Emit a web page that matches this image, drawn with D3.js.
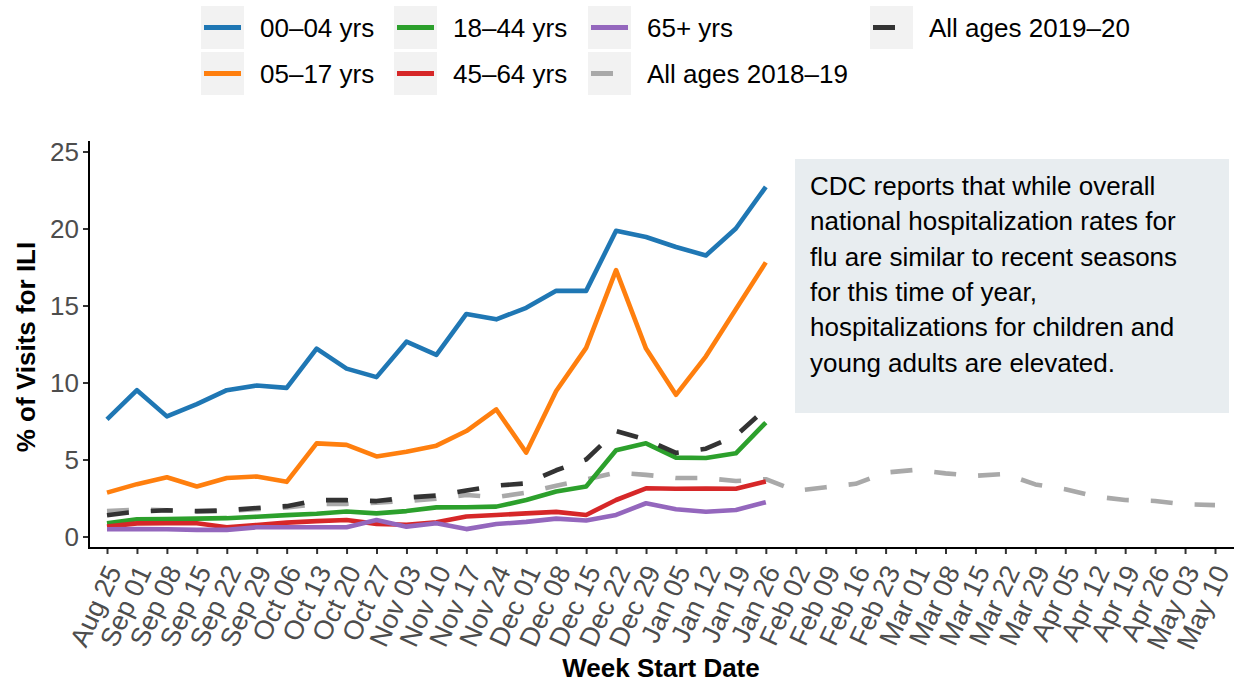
<!DOCTYPE html>
<html>
<head>
<meta charset="utf-8">
<script src="https://cdn.jsdelivr.net/npm/d3@7"></script>
<style>
  html, body { margin: 0; padding: 0; background: #fff; }
  svg { display: block; font-family: "Liberation Sans", Arial, Helvetica, sans-serif; }
</style>
</head>
<body>
<svg id="chart" width="1235" height="683"></svg>
<script>
// ---------------- DATA ----------------
const weeks = ["Aug 25","Sep 01","Sep 08","Sep 15","Sep 22","Sep 29","Oct 06","Oct 13","Oct 20","Oct 27",
  "Nov 03","Nov 10","Nov 17","Nov 24","Dec 01","Dec 08","Dec 15","Dec 22","Dec 29","Jan 05","Jan 12",
  "Jan 19","Jan 26","Feb 02","Feb 09","Feb 16","Feb 23","Mar 01","Mar 08","Mar 15","Mar 22","Mar 29",
  "Apr 05","Apr 12","Apr 19","Apr 26","May 03","May 10"];

const age00_04 = [7.6, 9.5, 7.8, 8.6, 9.5, 9.8, 9.65, 12.2, 10.9, 10.35, 12.65, 11.8, 14.45, 14.1, 14.85, 15.95, 15.95, 19.85, 19.45, 18.8, 18.25, 20.0, 22.7];
const age05_17 = [2.85, 3.4, 3.85, 3.25, 3.8, 3.9, 3.55, 6.05, 5.95, 5.2, 5.5, 5.9, 6.85, 8.25, 5.45, 9.45, 12.25, 17.3, 12.2, 9.2, 11.7, 14.75, 17.8];
const age18_44 = [0.86, 1.12, 1.14, 1.16, 1.19, 1.28, 1.39, 1.48, 1.62, 1.5, 1.65, 1.89, 1.9, 1.94, 2.37, 2.92, 3.25, 5.6, 6.05, 5.12, 5.1, 5.4, 7.4];
const age45_64 = [0.64, 0.85, 0.86, 0.86, 0.6, 0.75, 0.9, 1.0, 1.07, 0.82, 0.76, 0.92, 1.3, 1.4, 1.5, 1.6, 1.4, 2.37, 3.13, 3.1, 3.11, 3.1, 3.57];
const age65plus = [0.47, 0.48, 0.47, 0.43, 0.43, 0.6, 0.6, 0.6, 0.6, 1.07, 0.64, 0.86, 0.48, 0.81, 0.95, 1.16, 1.04, 1.4, 2.16, 1.77, 1.61, 1.72, 2.23];
const allAges2019_20 = [1.38, 1.62, 1.7, 1.65, 1.7, 1.85, 1.97, 2.36, 2.36, 2.3, 2.52, 2.66, 2.99, 3.3, 3.45, 4.3, 5.0, 6.85, 6.3, 5.43, 5.7, 6.55, 8.3];
const allAges2018_19 = [1.65, 1.75, 1.7, 1.62, 1.65, 1.78, 1.88, 2.1, 2.12, 2.2, 2.3, 2.45, 2.7, 2.55, 2.85, 3.3, 3.7, 4.15, 4.0, 3.8, 3.8, 3.6, 3.72,
  2.97, 3.2, 3.42, 4.15, 4.33, 4.1, 3.94, 4.06, 3.38, 3.07, 2.6, 2.37, 2.31, 2.09, 2.04];

const seriesNames = ["00\u201304 yrs","05\u201317 yrs","18\u201344 yrs","45\u201364 yrs","65+ yrs","All ages 2018\u201319","All ages 2019\u201320"];
const seriesColors = ["#1f77b4","#ff7f0e","#2ca02c","#d62728","#9467bd","#a9a9a9","#333333"];
const seriesDashed = [false,false,false,false,false,true,true];
const seriesValues = [age00_04, age05_17, age18_44, age45_64, age65plus, allAges2018_19, allAges2019_20];

const yTicks = [0, 5, 10, 15, 20, 25];
const annotationLines = [
  "CDC reports that while overall",
  "national hospitalization rates for",
  "flu are similar to recent seasons",
  "for this time of year,",
  "hospitalizations for children and",
  "young adults are elevated."
];

// ---------------- LAYOUT ----------------
const svg = d3.select("#chart");
const FONT = 26;
const plotLeft = 89, plotRight = 1234, plotTop = 141, plotBottom = 548;

const x = d3.scalePoint().domain(weeks).range([107, 1215]);
const y = d3.scaleLinear().domain([0, 25]).range([536.5, 151.5]);

// Annotation box
const ann = svg.append("g");
ann.append("rect").attr("x", 795).attr("y", 159).attr("width", 434).attr("height", 254).attr("fill", "#e8edf0");
ann.selectAll("text").data(annotationLines).join("text")
  .attr("x", 810).attr("y", (d, i) => 195 + i * 35.3)
  .attr("font-size", FONT).attr("fill", "#000").text(d => d);

// Lines (draw 2018-19 first, 2019-20 last)
const drawOrder = [5, 0, 1, 2, 3, 4, 6];
const line = d3.line().x(d => x(d.w)).y(d => y(d.v));
const linesG = svg.append("g").attr("fill", "none");
drawOrder.forEach(i => {
  const pts = seriesValues[i].map((v, k) => ({ w: weeks[k], v }));
  linesG.append("path").datum(pts)
    .attr("d", line)
    .attr("stroke", seriesColors[i])
    .attr("stroke-width", 4.6)
    .attr("stroke-linejoin", "round")
    .attr("stroke-linecap", "butt")
    .attr("stroke-dasharray", seriesDashed[i] ? "22,22" : null);
});

// Y axis
const yAxis = d3.axisLeft(y).tickValues(yTicks).tickSize(6).tickPadding(4);
const yg = svg.append("g").attr("transform", `translate(${plotLeft},0)`).call(yAxis);
yg.select(".domain").remove();
yg.selectAll(".tick line").attr("stroke", "#333").attr("stroke-width", 2);
yg.selectAll(".tick text").attr("font-size", FONT).attr("fill", "#4d4d4d")
  .attr("font-family", "'Liberation Sans', Arial, sans-serif").attr("dy", "0.36em");
svg.append("line").attr("x1", plotLeft).attr("x2", plotLeft).attr("y1", plotTop).attr("y2", plotBottom + 1)
  .attr("stroke", "#000").attr("stroke-width", 2);

// X axis
const xAxis = d3.axisBottom(x).tickSize(6).tickFormat(() => "");
const xg = svg.append("g").attr("transform", `translate(0,${plotBottom})`).call(xAxis);
xg.select(".domain").remove();
xg.selectAll(".tick line").attr("stroke", "#333").attr("stroke-width", 2);
xg.selectAll(".tick").append("text")
  .attr("transform", "translate(-3,15) rotate(-65)")
  .attr("text-anchor", "end")
  .attr("dy", "0.72em")
  .attr("font-size", 27).attr("fill", "#4d4d4d")
  .attr("font-family", "'Liberation Sans', Arial, sans-serif")
  .text(d => d);
svg.append("line").attr("x1", plotLeft - 1).attr("x2", plotRight).attr("y1", plotBottom).attr("y2", plotBottom)
  .attr("stroke", "#000").attr("stroke-width", 2);

// Axis titles
svg.append("text").attr("x", 661).attr("y", 677).attr("text-anchor", "middle")
  .attr("font-size", FONT).attr("font-weight", "bold").attr("fill", "#000").text("Week Start Date");
svg.append("text").attr("transform", "translate(35,347) rotate(-90)").attr("text-anchor", "middle")
  .attr("font-size", FONT).attr("font-weight", "bold").attr("fill", "#000").text("% of Visits for ILI");

// Legend (2 rows, column-major)
const legendCols = [201, 394, 588, 870];
const legendRows = [6, 52];
const legendOrder = [0, 1, 2, 3, 4, 5, 6];
const lg = svg.append("g");
legendOrder.forEach((si, k) => {
  const col = Math.floor(k / 2), row = k % 2;
  const gx = legendCols[col], gy = legendRows[row];
  const g = lg.append("g").attr("transform", `translate(${gx},${gy})`);
  g.append("rect").attr("width", 43).attr("height", 43).attr("fill", "#f2f2f2");
  g.append("line").attr("x1", 3).attr("x2", 40).attr("y1", 21.5).attr("y2", 21.5)
    .attr("stroke", seriesColors[si]).attr("stroke-width", 5)
    .attr("stroke-dasharray", seriesDashed[si] ? "22,22" : null);
  g.append("text").attr("x", 59).attr("y", 21.5).attr("dy", "0.36em")
    .attr("font-size", FONT).attr("fill", "#000").text(seriesNames[si]);
});
</script>
</body>
</html>
